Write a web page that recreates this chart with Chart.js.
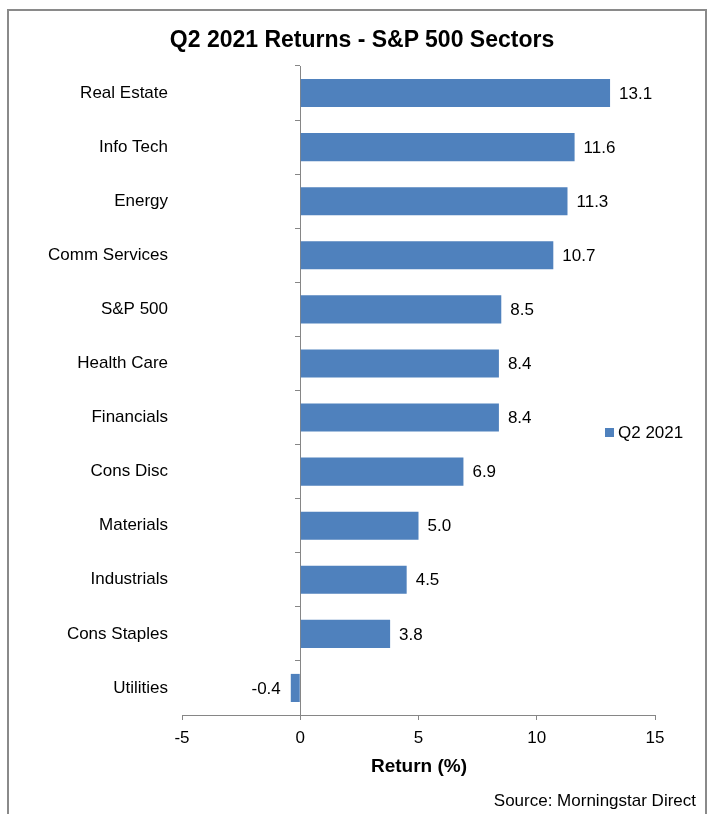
<!DOCTYPE html>
<html>
<head>
<meta charset="utf-8">
<script src="https://cdn.jsdelivr.net/npm/chart.js@4/dist/chart.umd.min.js"></script>
<style>
  html, body { margin: 0; padding: 0; background: #ffffff; }
  body { width: 709px; height: 814px; position: relative; overflow: hidden; font-family: "Liberation Sans", Arial, sans-serif; color: #000; }
  #frame { position: absolute; left: 7px; top: 9px; width: 700px; height: 830px; border: 2px solid #8a8a8a; box-sizing: border-box; }
  #chart { position: absolute; left: 0; top: 0; }
  .txt { position: absolute; white-space: nowrap; }
  #title { left: 362px; top: 25px; font-size: 23px; line-height: 28px; font-weight: bold; transform: translateX(-50%); }
  #xtitle { left: 419px; top: 755px; font-size: 19px; line-height: 22px; font-weight: bold; transform: translateX(-50%); }
  #source { right: 13px; top: 791px; font-size: 17px; line-height: 20px; }
  #legend { left: 605px; top: 423px; font-size: 17px; line-height: 20px; }
  #legend .sw { display: inline-block; width: 9px; height: 9px; background: #4F81BD; margin-right: 4px; vertical-align: 1px; }
</style>
</head>
<body>
<div id="frame"></div>
<canvas id="chart" width="709" height="814"></canvas>
<div class="txt" id="title">Q2 2021 Returns - S&amp;P 500 Sectors</div>
<div class="txt" id="xtitle">Return (%)</div>
<div class="txt" id="source">Source: Morningstar Direct</div>
<div class="txt" id="legend"><span class="sw"></span>Q2 2021</div>
<script>
const categories = ["Real Estate", "Info Tech", "Energy", "Comm Services", "S&P 500", "Health Care", "Financials", "Cons Disc", "Materials", "Industrials", "Cons Staples", "Utilities"];
const returnsQ2 = [13.1, 11.6, 11.3, 10.7, 8.5, 8.4, 8.4, 6.9, 5.0, 4.5, 3.8, -0.4];
const seriesName = "Q2 2021";
const xMin = -5, xMax = 15, xStep = 5;

const barColor = "#4F81BD";
const axisColor = "#868686";
const fontFamily = "'Liberation Sans', Arial, sans-serif";

const valueLabels = {
  id: "valueLabels",
  afterDatasetsDraw(chart) {
    const ctx = chart.ctx;
    const meta = chart.getDatasetMeta(0);
    ctx.save();
    ctx.font = "17px " + fontFamily;
    ctx.fillStyle = "#000";
    ctx.textBaseline = "middle";
    meta.data.forEach((bar, i) => {
      const v = chart.data.datasets[0].data[i];
      const txt = v.toFixed(1);
      if (v >= 0) {
        ctx.textAlign = "left";
        ctx.fillText(txt, bar.x + 9, bar.y + 1);
      } else {
        ctx.textAlign = "right";
        ctx.fillText(txt, bar.x - 10, bar.y + 1);
      }
    });
    ctx.restore();
  }
};

new Chart(document.getElementById("chart"), {
  type: "bar",
  data: {
    labels: categories,
    datasets: [{
      label: seriesName,
      data: returnsQ2,
      backgroundColor: barColor,
      borderWidth: 0,
      barPercentage: 0.52,
      categoryPercentage: 1.0,
      yAxisID: "y",
      xAxisID: "x"
    }]
  },
  options: {
    indexAxis: "y",
    responsive: false,
    animation: false,
    devicePixelRatio: 1,
    layout: { padding: { top: 66, right: 54, bottom: 0, left: 0 } },
    plugins: {
      legend: { display: false },
      title: { display: false },
      tooltip: { enabled: false }
    },
    scales: {
      x: {
        type: "linear",
        position: "bottom",
        min: xMin,
        max: xMax,
        ticks: { stepSize: xStep, color: "#000", font: { family: fontFamily, size: 17 }, padding: 8 },
        grid: { drawOnChartArea: false, drawTicks: true, tickLength: 5, color: axisColor, lineWidth: 1 },
        border: { display: true, color: axisColor, width: 1 },
        afterFit(scale) { scale.height = 99; }
      },
      y: {
        type: "category",
        position: "left",
        offset: true,
        ticks: { color: "#000", font: { family: fontFamily, size: 17 }, padding: 14 },
        grid: { display: false, drawTicks: false },
        border: { display: false },
        afterFit(scale) { scale.width = 182; }
      },
      y2: {
        type: "category",
        labels: categories,
        position: { x: 0 },
        offset: true,
        ticks: { display: false },
        grid: { offset: true, drawOnChartArea: false, drawTicks: true, tickLength: 5, color: axisColor, lineWidth: 1 },
        border: { display: true, color: axisColor, width: 1 }
      }
    }
  },
  plugins: [valueLabels]
});
</script>
</body>
</html>
